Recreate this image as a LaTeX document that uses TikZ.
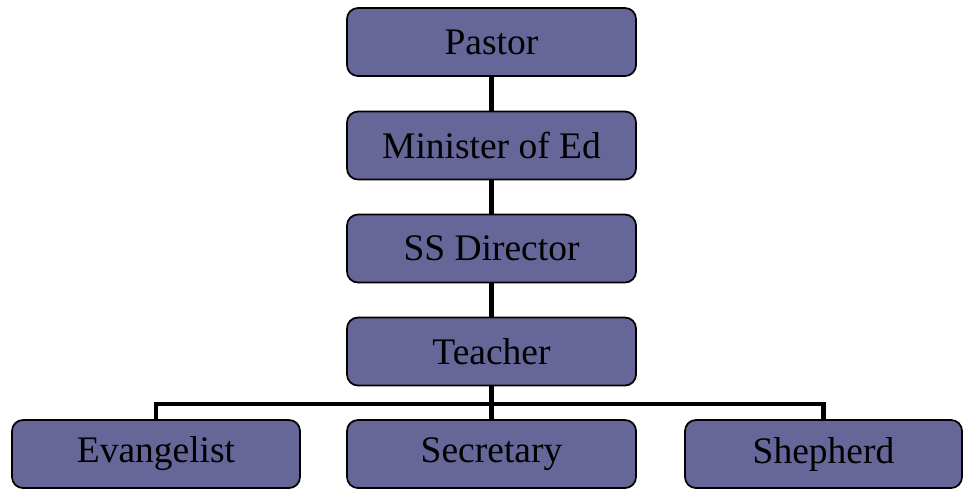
\documentclass[tikz,border=0pt]{standalone}
\usepackage{fontspec}
\setmainfont{Liberation Serif}
\usepackage{tikz}
\usetikzlibrary{positioning}

\definecolor{boxfill}{RGB}{102,102,153}

\begin{document}
\begin{tikzpicture}[x=0.03cm, y=-0.03cm,
        rolebox/.style={rectangle,
            rounded corners=0.33cm,
            draw=black,
            line width=1.5pt,
            fill=boxfill,
            minimum width=8.67cm,
            minimum height=2.04cm,
            inner sep=0pt,
            font=\fontsize{32}{38}\selectfont},
        link/.style={draw=black, line width=4pt}]
        \useasboundingbox (0,0) rectangle (964,490);

        \node[rolebox] (pastor) at (491.5,42) {Pastor};
        \node[rolebox] (minister) at (491.5,145.5) {Minister of Ed};
        \node[rolebox] (director) at (491.5,248.5) {SS Director};
        \node[rolebox] (teacher) at (491.5,351.5) {Teacher};

        \node[rolebox, minimum width=8.64cm] (evangelist) at (156,454) {Evangelist};
        \node[rolebox] (secretary) at (491.5,454) {Secretary};
        \node[rolebox, minimum width=8.31cm] (shepherd) at (823.5,454) {Shepherd};

        \draw[link] (pastor) -- (minister);
        \draw[link] (minister) -- (director);
        \draw[link] (director) -- (teacher);
        \draw[link] (teacher) -- (secretary);

        \coordinate (bus) at (491.5,404);
        \draw[link] (evangelist.north) |- (bus) -| (shepherd.north);
\end{tikzpicture}
\end{document}
